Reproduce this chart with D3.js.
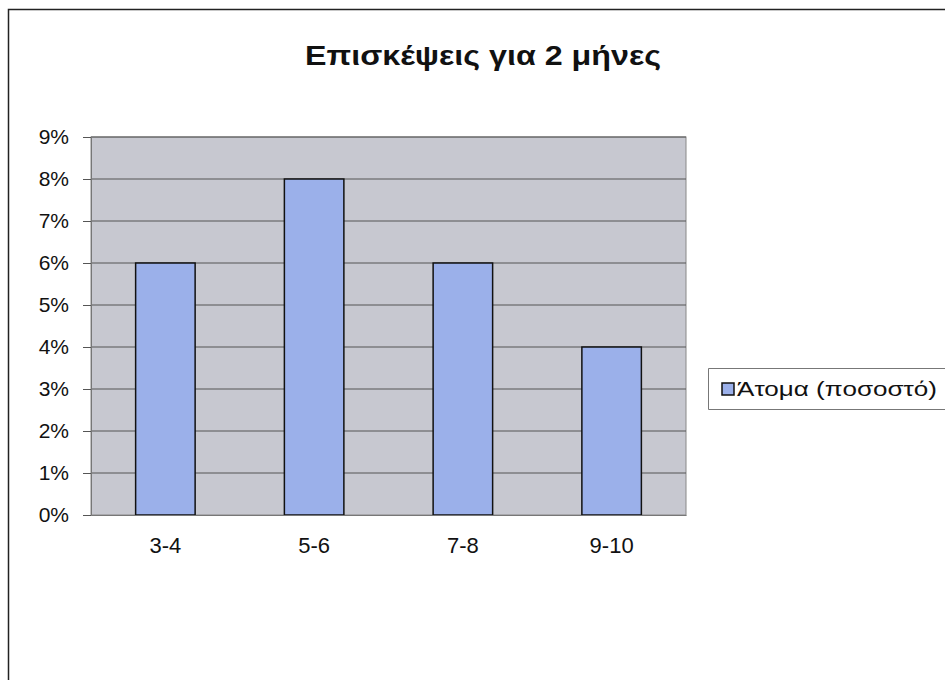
<!DOCTYPE html>
<html>
  <head>
    <meta charset="utf-8">
    <script src="https://d3js.org/d3.v7.min.js"></script>
    <style>
      body { margin: 0; background: #fff; }
      text { font-family: "Liberation Sans", Arial, sans-serif; }
    </style>
  </head>
  <body>
    <svg width="945" height="680"></svg>
    <script>
      const categories = ["3-4", "5-6", "7-8", "9-10"];
      const values = [6, 8, 6, 4];
      const yTicks = [0, 1, 2, 3, 4, 5, 6, 7, 8, 9];
      const seriesName = "Άτομα (ποσοστό)";
      const chartTitle = "Επισκέψεις για 2 μήνες";

      const svg = d3.select("svg");
      const margin = {top: 137, left: 91, right: 259, bottom: 165};
      const innerWidth = 945 - margin.left - margin.right;
      const innerHeight = 680 - margin.top - margin.bottom;

      // outer chart frame (left and top edges only, the rest is off the page)
      svg.append("path")
        .attr("d", "M8.5,680 V9.5 H945")
        .attr("fill", "none")
        .attr("stroke", "#222")
        .attr("stroke-width", 1.5);

      svg.append("text")
        .attr("x", 483).attr("y", 65)
        .attr("text-anchor", "middle")
        .attr("font-size", 28)
        .attr("font-weight", "bold")
        .attr("fill", "#111")
        .attr("textLength", 356)
        .attr("lengthAdjust", "spacingAndGlyphs")
        .text(chartTitle);

      const x = d3.scaleBand()
        .domain(categories)
        .range([0, innerWidth])
        .paddingInner(0.6)
        .paddingOuter(0.3);
      const y = d3.scaleLinear()
        .domain([0, 9])
        .range([innerHeight, 0]);

      const g = svg.append("g")
        .attr("transform", `translate(${margin.left}, ${margin.top})`);

      g.append("rect")
        .attr("width", innerWidth).attr("height", innerHeight)
        .attr("fill", "#c7c8d0")
        .attr("stroke", "#888")
        .attr("stroke-width", 1);

      g.selectAll(".grid").data(yTicks.slice(1)).join("line")
        .attr("class", "grid")
        .attr("x1", 0).attr("x2", innerWidth)
        .attr("y1", d => y(d)).attr("y2", d => y(d))
        .attr("stroke", "#555")
        .attr("stroke-width", 1);

      const yAxis = g.append("g")
        .call(d3.axisLeft(y).tickValues(yTicks).tickFormat(d => d + "%").tickSize(8).tickPadding(14));
      yAxis.select(".domain").attr("stroke", "#777");
      yAxis.selectAll(".tick line").attr("stroke", "#555");
      yAxis.selectAll("text").attr("font-size", 21).attr("fill", "#111")
        .attr("font-family", "Liberation Sans, Arial, sans-serif");

      g.selectAll(".bar").data(values).join("rect")
        .attr("class", "bar")
        .attr("x", (d, i) => x(categories[i]))
        .attr("y", d => y(d))
        .attr("width", x.bandwidth())
        .attr("height", d => innerHeight - y(d))
        .attr("fill", "#9bb0ea")
        .attr("stroke", "#111")
        .attr("stroke-width", 1.5);

      const xAxis = g.append("g")
        .attr("transform", `translate(0, ${innerHeight})`)
        .call(d3.axisBottom(x).tickSize(0).tickPadding(22));
      xAxis.select(".domain").attr("stroke", "#777");
      xAxis.selectAll("text").attr("font-size", 22).attr("fill", "#111")
        .attr("font-family", "Liberation Sans, Arial, sans-serif");

      // legend
      const lg = svg.append("g").attr("transform", "translate(708, 368)");
      lg.append("path")
        .attr("d", "M945,0.5 H0.5 V41.5 H945")
        .attr("transform", "translate(0,0)")
        .attr("fill", "none")
        .attr("stroke", "#777");
      lg.append("rect")
        .attr("x", 14).attr("y", 15)
        .attr("width", 12).attr("height", 12)
        .attr("fill", "#9bb0ea")
        .attr("stroke", "#111")
        .attr("stroke-width", 1.5);
      lg.append("text")
        .attr("x", 29).attr("y", 28)
        .attr("font-size", 20)
        .attr("fill", "#111")
        .attr("textLength", 200)
        .attr("lengthAdjust", "spacingAndGlyphs")
        .text(seriesName);
    </script>
  </body>
</html>
